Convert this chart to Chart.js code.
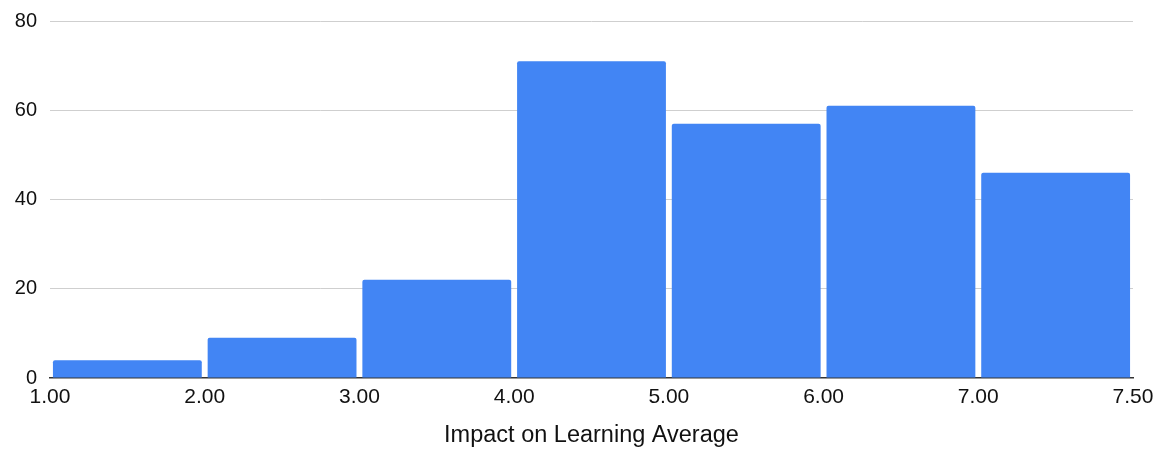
<!DOCTYPE html>
<html>
<head>
<meta charset="utf-8">
<script src="https://cdn.jsdelivr.net/npm/chart.js@4/dist/chart.umd.min.js"></script>
<style>
  html, body { margin: 0; padding: 0; background: #fff; }
  #wrap { width: 1166px; height: 450px; }
</style>
</head>
<body>
<div id="wrap"><canvas id="c"></canvas></div>
<script>
// Histogram bin edges (x tick labels) and counts per bin
const binEdges = ['1.00', '2.00', '3.00', '4.00', '5.00', '6.00', '7.00', '7.50'];
const binCounts = [4, 9, 22, 71, 57, 61, 46];
const yTicks = [0, 20, 40, 60, 80];
const xTitle = 'Impact on Learning Average';

const FONT = '"Liberation Sans", Arial, Helvetica, sans-serif';

// each bin occupies one unit on the linear x scale; bars sit at the bin middle
const points = binCounts.map((v, i) => ({ x: i + 0.5, y: v }));

new Chart(document.getElementById('c'), {
  type: 'bar',
  data: {
    datasets: [{
      data: points,
      backgroundColor: '#4285F4',
      borderWidth: 0,
      borderRadius: { topLeft: 2, topRight: 2, bottomLeft: 0, bottomRight: 0 },
      borderSkipped: 'bottom',
      barPercentage: 0.962,
      categoryPercentage: 1.0
    }]
  },
  options: {
    responsive: true,
    maintainAspectRatio: false,
    animation: false,
    layout: { padding: { top: 17.5, right: 33, bottom: 0, left: 0 } },
    plugins: {
      legend: { display: false },
      tooltip: { enabled: false }
    },
    scales: {
      x: {
        type: 'linear',
        min: 0,
        max: binEdges.length - 1,
        offset: false,
        grid: { display: false },
        border: { display: true, color: '#333333', width: 1.5 },
        afterBuildTicks: (scale) => {
          scale.ticks = binEdges.map((_, i) => ({ value: i }));
        },
        afterFit: (scale) => { scale.height = 72; },
        ticks: {
          autoSkip: false,
          maxRotation: 0,
          padding: -1,
          color: '#111111',
          font: { family: FONT, size: 21 },
          callback: (value) => binEdges[value]
        },
        title: {
          display: true,
          text: xTitle,
          color: '#111111',
          font: { family: FONT, size: 23.5 },
          padding: { top: 0, bottom: 0 }
        }
      },
      y: {
        min: yTicks[0],
        max: yTicks[yTicks.length - 1],
        afterBuildTicks: (scale) => {
          scale.ticks = yTicks.map(v => ({ value: v }));
        },
        afterFit: (scale) => { scale.width = 50; },
        border: { display: false },
        grid: {
          drawTicks: false,
          color: (ctx) => ctx.tick && ctx.tick.value === 0 ? 'rgba(0,0,0,0)' : '#cfcfcf',
          lineWidth: 1
        },
        ticks: {
          padding: 13,
          color: '#111111',
          font: { family: FONT, size: 20, lineHeight: 0.8 }
        }
      }
    }
  }
});
</script>
</body>
</html>
